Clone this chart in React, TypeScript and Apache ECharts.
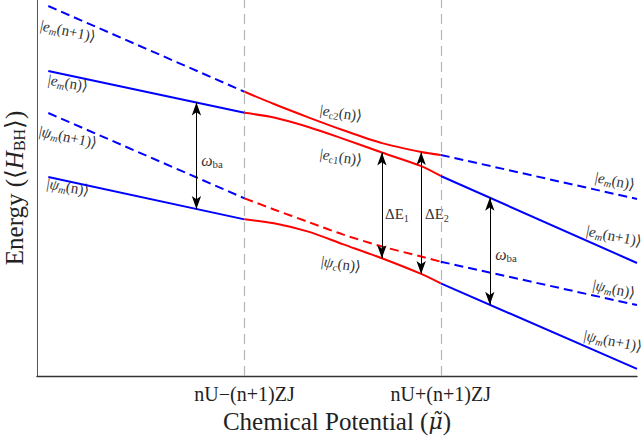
import React, { useEffect, useRef } from 'react';
import * as echarts from 'echarts';

// x positions (chemical potential, arbitrary units: ticks at -1 and +1)
const xLeft = [-3, -1];
const xRight = [1, 3];
const xMid = [-1, -0.7, -0.35, 0, 0.4, 0.8, 1];

// left region (blue)
const emN1Left = [17.22, 13.23]; // |e_m(n+1)> dashed
const emNLeft = [14.2, 12.25]; // |e_m(n)> solid
const psiN1Left = [12.24, 8.27]; // |psi_m(n+1)> dashed
const psiNLeft = [9.26, 7.29]; // |psi_m(n)> solid

// middle region (red, avoided crossings)
const ec2Mid = [13.23, 12.66, 12.04, 11.45, 10.84, 10.43, 10.29];
const ec1Mid = [12.25, 12.03, 11.59, 11.05, 10.4, 9.77, 9.31];
const psiUpperMid = [8.27, 7.75, 7.17, 6.59, 6.03, 5.56, 5.32];
const psiCMid = [7.29, 7.11, 6.72, 6.14, 5.48, 4.75, 4.31];

// right region (blue)
const emNRight = [10.29, 8.24]; // dashed
const emN1Right = [9.31, 5.26]; // solid
const psiNRight = [5.32, 3.3]; // dashed
const psiN1Right = [4.31, 0.33]; // solid

const tickValues = [-1, 1];
const tickLabels = ['nU\u2212(n+1)ZJ', 'nU+(n+1)ZJ'];

// arrows: x, lower energy, upper energy
const omegaLeft = [-1.49, 7.77, 12.73];
const omegaRight = [1.5, 3.32, 8.3];
const deltaE1 = [0.4, 5.48, 10.4];
const deltaE2 = [0.8, 4.75, 10.43];

const FONT = 'Liberation Serif, DejaVu Serif, serif';
const TXT = '#333';
const BLUE = '#0000ff';
const RED = '#ff0000';

const zip = (xs: number[], ys: number[]) => xs.map((x, i) => [x, ys[i]]);

function lineSeries(xs: number[], ys: number[], color: string, dashed: boolean, extra: any = {}) {
  return {
    type: 'line',
    data: zip(xs, ys),
    showSymbol: false,
    symbol: 'none',
    silent: true,
    smooth: xs.length > 2 ? 0.3 : false,
    lineStyle: { color, width: 2, type: dashed ? [9, 5] : 'solid' },
    emphasis: { disabled: true },
    z: 3,
    ...extra,
  };
}

const richBase = (size: number) => ({
  n: { fontSize: size, fontFamily: FONT, fill: TXT, lineHeight: 18 },
  i: { fontStyle: 'italic', fontSize: size, fontFamily: FONT, fill: TXT, lineHeight: 18 },
  s: { fontStyle: 'italic', fontSize: size * 0.68, fontFamily: FONT, fill: TXT, verticalAlign: 'bottom', lineHeight: 9 },
  r: { fontSize: size * 0.68, fontFamily: FONT, fill: TXT, verticalAlign: 'bottom', lineHeight: 9 },
});

function label(text: string, x: number, y: number, rot: number, size = 15) {
  return {
    type: 'text',
    x,
    y,
    rotation: rot,
    silent: true,
    style: {
      text,
      font: `${size}px ${FONT}`,
      fontSize: size,
      fontFamily: FONT,
      fill: TXT,
      align: 'center',
      verticalAlign: 'middle',
      lineHeight: 18,
      rich: richBase(size),
    },
  };
}

function arrow(a: number[]) {
  return [{ coord: [a[0], a[1]] }, { coord: [a[0], a[2]] }];
}

export default function App() {
  const ref = useRef<HTMLDivElement>(null);
  useEffect(() => {
    if (!ref.current) return;
    const chart = echarts.init(ref.current, null, { renderer: 'svg' });
    const option: any = {
      animation: false,
      grid: { left: 37, right: 6, top: 0, bottom: 66, containLabel: false, outerBoundsMode: 'none' },
      xAxis: {
        type: 'value',
        min: -3.115,
        max: 3,
        name: 'Chemical Potential ({mu|\u03bc\u0303})',
        nameLocation: 'middle',
        nameGap: 32,
        nameTextStyle: {
          fontFamily: FONT,
          fontSize: 25,
          color: '#222',
          rich: { mu: { fontFamily: 'DejaVu Serif, serif', fontSize: 22, fontStyle: 'italic', color: '#222' } },
        },
        axisLine: { show: true, onZero: false, lineStyle: { color: '#333', width: 1.4 } },
        axisTick: { show: true, inside: true, length: 4, customValues: tickValues, lineStyle: { color: '#555' } },
        axisLabel: {
          customValues: tickValues,
          formatter: (v: number) => tickLabels[tickValues.indexOf(v)] ?? '',
          fontFamily: FONT,
          fontSize: 20,
          color: '#222',
          margin: 8,
        },
        splitLine: { show: false },
      },
      yAxis: {
        type: 'value',
        min: 0,
        max: 17.5,
        name: 'Energy (\u27e8{h|H}{b|BH}\u27e9)',
        nameLocation: 'middle',
        nameGap: 10,
        nameTextStyle: {
          fontFamily: FONT,
          fontSize: 25,
          color: '#222',
          rich: {
            h: { fontFamily: FONT, fontSize: 25, fontStyle: 'italic', color: '#222' },
            b: { fontFamily: FONT, fontSize: 16, color: '#222', verticalAlign: 'bottom', lineHeight: 14 },
          },
        },
        axisLine: { show: true, onZero: false, lineStyle: { color: '#555', width: 1 } },
        axisTick: { show: false },
        axisLabel: { show: false },
        splitLine: { show: false },
      },
      series: [
        lineSeries(xLeft, emN1Left, BLUE, true, {
          markLine: {
            silent: true,
            symbol: 'none',
            label: { show: false },
            lineStyle: { color: '#b5b5b5', width: 1.2, type: [10, 6] },
            data: tickValues.map((v) => ({ xAxis: v })),
            z: 1,
          },
        }),
        lineSeries(xLeft, emNLeft, BLUE, false, {
          markLine: {
            silent: true,
            symbol: ['arrow', 'arrow'],
            symbolSize: [7, 13],
            label: { show: false },
            lineStyle: { color: '#000', width: 1, type: 'solid' },
            emphasis: { disabled: true },
            data: [arrow(omegaLeft), arrow(omegaRight), arrow(deltaE1), arrow(deltaE2)],
          },
        }),
        lineSeries(xLeft, psiN1Left, BLUE, true),
        lineSeries(xLeft, psiNLeft, BLUE, false),
        lineSeries(xMid, ec2Mid, RED, false),
        lineSeries(xMid, ec1Mid, RED, false),
        lineSeries(xMid, psiUpperMid, RED, true),
        lineSeries(xMid, psiCMid, RED, false),
        lineSeries(xRight, emNRight, BLUE, true),
        lineSeries(xRight, emN1Right, BLUE, false),
        lineSeries(xRight, psiNRight, BLUE, true),
        lineSeries(xRight, psiN1Right, BLUE, false),
      ],
      graphic: [
        label('{n||}{i|e}{s|m}{n|(n+1)\u27e9}', 68, 31, -0.21),
        label('{n||}{i|e}{s|m}{n|(n)\u27e9}', 68, 83, -0.17),
        label('{n||}{i|\u03c8}{s|m}{n|(n+1)\u27e9}', 68, 137, -0.21),
        label('{n||}{i|\u03c8}{s|m}{n|(n)\u27e9}', 68, 187, -0.17),
        label('{n||}{i|e}{r|c2}{n|(n)\u27e9}', 341, 113, -0.15),
        label('{n||}{i|e}{r|c1}{n|(n)\u27e9}', 341, 157, -0.15),
        label('{n||}{i|\u03c8}{s|c}{n|(n)\u27e9}', 341, 264, -0.15),
        label('{n|\u0394E}{r|1}', 397, 214, 0),
        label('{n|\u0394E}{r|2}', 437, 214, 0),
        label('{i|\u03c9}{r|ba}', 212, 160, 0, 16),
        label('{i|\u03c9}{r|ba}', 506, 254, 0, 16),
        label('{n||}{i|e}{s|m}{n|(n)\u27e9}', 615, 181, -0.2),
        label('{n||}{i|e}{s|m}{n|(n+1)\u27e9}', 614, 236, -0.2),
        label('{n||}{i|\u03c8}{s|m}{n|(n)\u27e9}', 614, 289, -0.2),
        label('{n||}{i|\u03c8}{s|m}{n|(n+1)\u27e9}', 613, 341, -0.2),
      ],
    };
    chart.setOption(option);
    return () => chart.dispose();
  }, []);
  return <div ref={ref} style={{ width: 643, height: 442, position: 'absolute', left: 0, top: 0 }} />;
}
